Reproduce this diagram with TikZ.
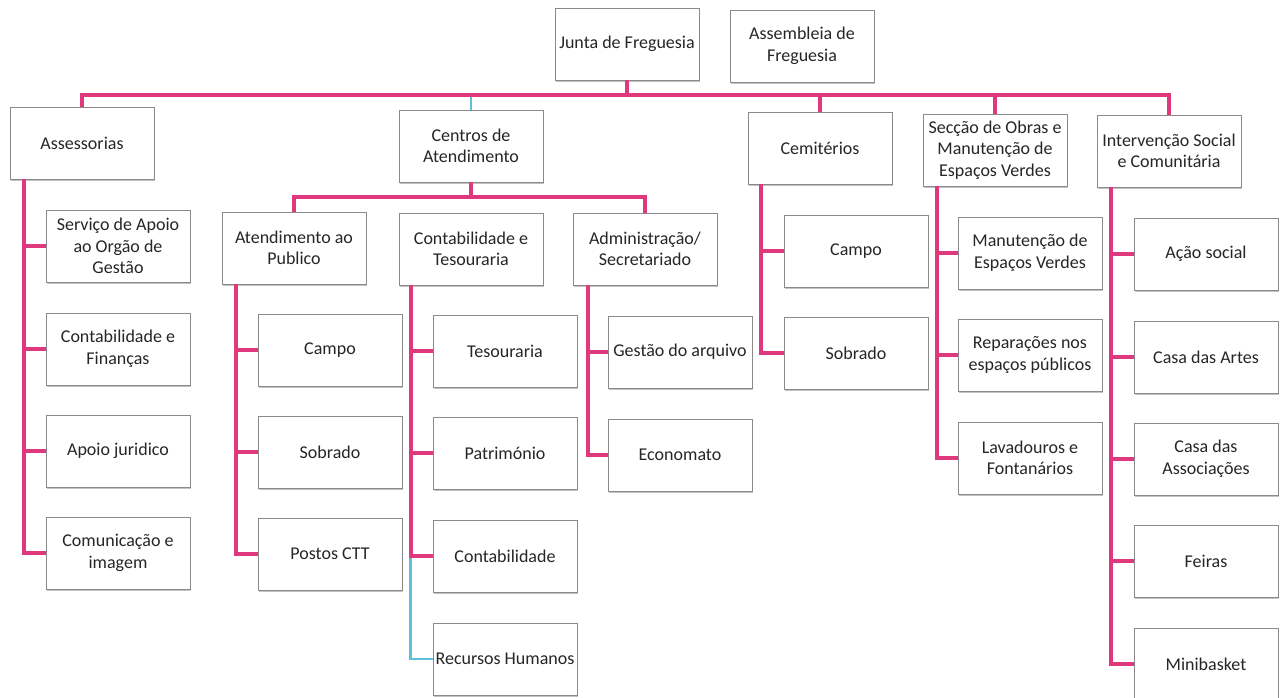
\documentclass[tikz,border=0pt]{standalone}
\usepackage{fontspec}
\setmainfont{Carlito}
\usepackage{tikz}
\usetikzlibrary{shadows}

\definecolor{linkpink}{HTML}{E0387C}
\definecolor{linkblue}{HTML}{5CC0DA}
\definecolor{boxgrey}{HTML}{8A8A8A}

\tikzset{
  box/.style={draw=boxgrey, line width=0.8pt, fill=white, rectangle,
    minimum width=144pt, minimum height=72pt, inner sep=2pt, align=center,
    font=\fontsize{18}{21.5}\selectfont, text=black!85,
    drop shadow={shadow xshift=1pt, shadow yshift=-2pt, opacity=0.4, fill=black!60}},
  link/.style={draw=linkpink, line width=4.2pt},
  bluelink/.style={draw=linkblue, line width=2.8pt}
}

\begin{document}
\begin{tikzpicture}[x=1pt,y=-1pt]
    \useasboundingbox (0,0) rectangle (1283,697);

    % top level
    \node[box] (junta) at (627,44) {Junta de Freguesia};
    \node[box] (assem) at (802,46) {Assembleia de\\Freguesia};

    \node[box] (assess) at (82,143) {Assessorias};
    \node[box] (centros) at (471,146) {Centros de\\Atendimento};
    \node[box] (cemit) at (820,148) {Cemitérios};
    \node[box] (seccao) at (995,150) {Secção de Obras e\\Manutenção de\\Espaços Verdes};
    \node[box] (interv) at (1169,151) {Intervenção Social\\e Comunitária};

    % centros de atendimento
    \node[box] (atend) at (294,248) {Atendimento ao\\Publico};
    \node[box] (contab) at (471,249) {Contabilidade e\\Tesouraria};
    \node[box] (admin) at (645,249) {Administração/\\Secretariado};

    % assessorias
    \node[box] (as1) at (118,246) {Serviço de Apoio\\ao Orgão de\\Gestão};
    \node[box] (as2) at (118,349) {Contabilidade e\\Finanças};
    \node[box] (as3) at (118,451) {Apoio juridico};
    \node[box] (as4) at (118,553) {Comunicação e\\imagem};

    \node[box] (at1) at (330,350) {Campo};
    \node[box] (at2) at (330,452) {Sobrado};
    \node[box] (at3) at (330,554) {Postos CTT};

    \node[box] (ct1) at (505,351) {Tesouraria};
    \node[box] (ct2) at (505,453) {Património};
    \node[box] (ct3) at (505,556) {Contabilidade};
    \node[box] (ct4) at (505,659) {Recursos Humanos};

    \node[box] (ad1) at (680,352) {Gestão do arquivo};
    \node[box] (ad2) at (680,455) {Economato};

    % cemiterios, obras, intervencao
    \node[box] (ce1) at (856,251) {Campo};
    \node[box] (ce2) at (856,353) {Sobrado};

    \node[box] (se1) at (1030,253) {Manutenção de\\Espaços Verdes};
    \node[box] (se2) at (1030,355) {Reparações nos\\espaços públicos};
    \node[box] (se3) at (1030,458) {Lavadouros e\\Fontanários};

    \node[box] (in1) at (1206,254) {Ação social};
    \node[box] (in2) at (1206,357) {Casa das Artes};
    \node[box] (in3) at (1206,459) {Casa das\\Associações};
    \node[box] (in4) at (1206,561) {Feiras};
    \node[box] (in5) at (1206,664) {Minibasket};

    % connectors
    \coordinate (bus) at (0,95);
    \coordinate (sub) at (0,197);

    \draw[bluelink] (centros.north) -- (centros.north |- bus);
    \draw[link] (junta.south) -- (junta.south |- bus);
    \draw[link] (assess.north) |- (interv.north |- bus) -- (interv.north);
    \foreach \n in {cemit,seccao}
        \draw[link] (\n.north) -- (\n.north |- bus);

    \draw[link] (centros.south) -- (centros.south |- sub);
    \draw[link] (atend.north) |- (admin.north |- sub) -- (admin.north);

    \foreach \c in {as1,as2,as3,as4}
        \draw[link] ([xshift=14pt]assess.south west) |- (\c.west);
    \foreach \c in {at1,at2,at3}
        \draw[link] ([xshift=14pt]atend.south west) |- (\c.west);
    \draw[bluelink] ([xshift=12pt]contab.south west |- ct3.west) |- (ct4.west);
    \foreach \c in {ct1,ct2,ct3}
        \draw[link] ([xshift=12pt]contab.south west) |- (\c.west);
    \foreach \c in {ad1,ad2}
        \draw[link] ([xshift=15pt]admin.south west) |- (\c.west);
    \foreach \c in {ce1,ce2}
        \draw[link] ([xshift=13pt]cemit.south west) |- (\c.west);
    \foreach \c in {se1,se2,se3}
        \draw[link] ([xshift=14pt]seccao.south west) |- (\c.west);
    \foreach \c in {in1,in2,in3,in4,in5}
        \draw[link] ([xshift=14pt]interv.south west) |- (\c.west);
\end{tikzpicture}
\end{document}
